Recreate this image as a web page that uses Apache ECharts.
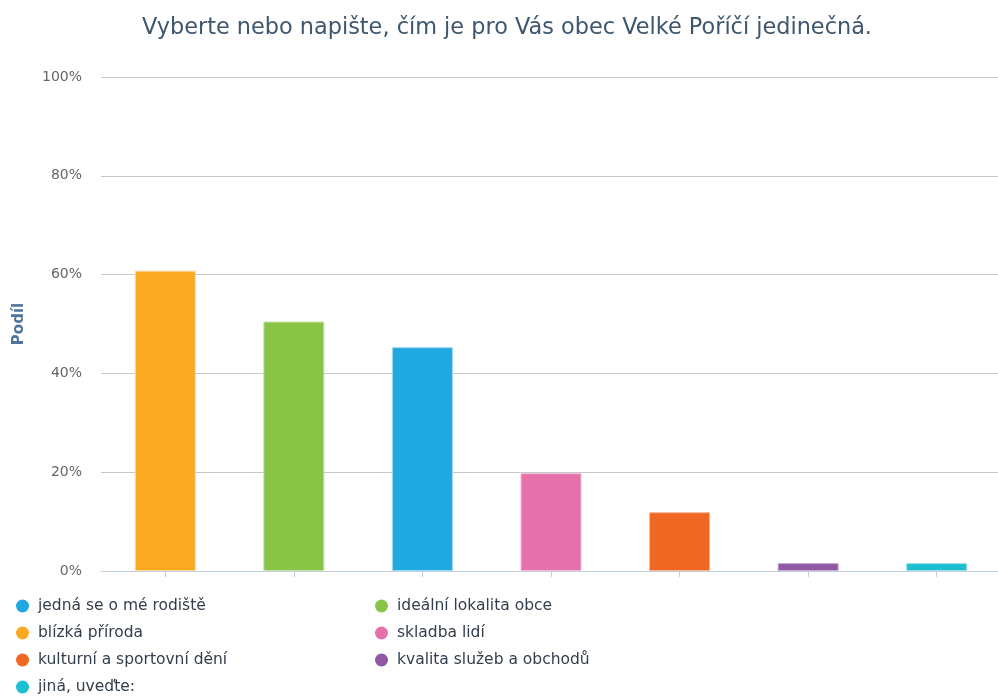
<!DOCTYPE html>
<html>
<head>
<meta charset="utf-8">
<script src="https://cdn.jsdelivr.net/npm/echarts@6/dist/echarts.min.js"></script>
<style>
html,body{margin:0;padding:0;background:#fff;}
#chart{width:998px;height:696px;}
</style>
</head>
<body>
<div id="chart"></div>
<script>
// Bars in display order (left to right)
var categories = ['blízká příroda', 'ideální lokalita obce', 'jedná se o mé rodiště', 'skladba lidí', 'kulturní a sportovní dění', 'kvalita služeb a obchodů', 'jiná, uveďte:'];
var values = [60.8, 50.5, 45.3, 19.8, 11.9, 1.6, 1.6];
var colors = ['#fba823', '#88c546', '#1fa9e0', '#e670aa', '#f06724', '#9057a3', '#1cbed1'];
var borderColors = ['#fdd9a0', '#c9e3a8', '#a0d8f0', '#f3b9d5', '#f8b594', '#c9abd3', '#a0e2ea'];
// Legend columns (row-major order in original: left, right, left, right ...)
var legendLeft = ['jedná se o mé rodiště', 'blízká příroda', 'kulturní a sportovní dění', 'jiná, uveďte:'];
var legendRight = ['ideální lokalita obce', 'skladba lidí', 'kvalita služeb a obchodů'];
var yTicks = [0, 20, 40, 60, 80, 100];

var FONT = 'DejaVu Sans';

var series = categories.map(function (name, i) {
  var data = categories.map(function (c, j) { return j === i ? values[i] : '-'; });
  return {
    name: name,
    type: 'bar',
    data: data,
    barWidth: 61,
    barGap: '-100%',
    itemStyle: { color: colors[i], borderColor: borderColors[i], borderWidth: 1 },
    emphasis: { disabled: true }
  };
});

var legendCommon = {
  orient: 'vertical',
  icon: 'circle',
  itemWidth: 13,
  itemHeight: 13,
  itemGap: 11,
  padding: 0,
  height: 120,
  itemStyle: { borderWidth: 0 },
  textStyle: { fontFamily: FONT, fontSize: 15.5, lineHeight: 16, color: '#333e4c', padding: [0, 0, 0, 4] },
  selectedMode: false
};

var chart = echarts.init(document.getElementById('chart'), null, { renderer: 'canvas' });
chart.setOption({
  animation: false,
  backgroundColor: '#ffffff',
  title: {
    text: 'Vyberte nebo napište, čím je pro Vás obec Velké Poříčí jedinečná.',
    left: 137,
    top: 12,
    textStyle: { fontFamily: FONT, fontSize: 22.4, fontWeight: 'normal', color: '#3e576f' }
  },
  legend: [
    Object.assign({}, legendCommon, { left: 16, top: 598, data: legendLeft }),
    Object.assign({}, legendCommon, { left: 375, top: 598, data: legendRight })
  ],
  grid: { left: 101, right: -3, top: 77, bottom: 125, containLabel: false, outerBoundsMode: 'none' },
  xAxis: {
    type: 'category',
    data: categories,
    axisLine: { lineStyle: { color: '#c0d0e0', width: 1 } },
    axisTick: { show: true, alignWithLabel: true, interval: 0, length: 6, lineStyle: { color: '#c0d0e0' } },
    axisLabel: { show: false, interval: 0 }
  },
  yAxis: {
    type: 'value',
    min: yTicks[0],
    max: yTicks[yTicks.length - 1],
    interval: 20,
    name: 'Podíl',
    nameLocation: 'middle',
    nameRotate: 90,
    nameGap: 74,
    nameTextStyle: { fontFamily: FONT, fontSize: 15, fontWeight: 'bold', color: '#4d759e' },
    axisLabel: { formatter: '{value}%', fontFamily: FONT, fontSize: 14, color: '#666666', margin: 19 },
    splitLine: { lineStyle: { color: '#c8c8c8', width: 1 } },
    axisLine: { show: false },
    axisTick: { show: false }
  },
  series: series
});
</script>
</body>
</html>
